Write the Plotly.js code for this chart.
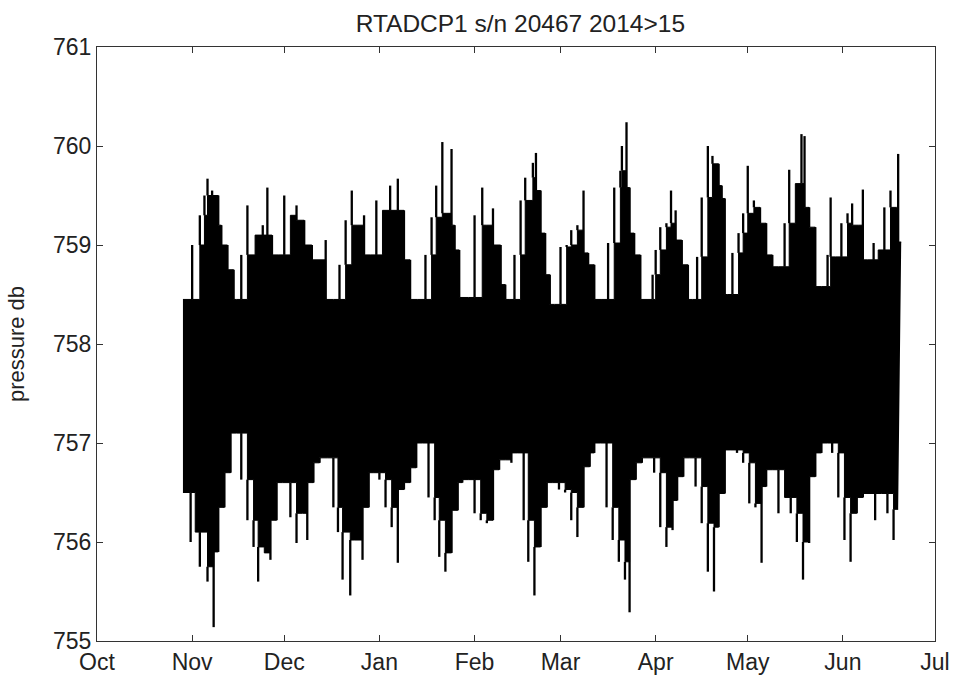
<!DOCTYPE html>
<html>
<head>
<meta charset="utf-8">
<script src="https://cdn.plot.ly/plotly-3.0.1.min.js"></script>
<style>html,body{margin:0;padding:0;background:#fff;}#chart{width:953px;height:677px;}</style>
</head>
<body>
<div id="chart"></div>
<script>
// Upper envelope of pressure record (db)
var hiDates = ["2014-10-29","2014-11-01","2014-11-03 12:00","2014-11-05","2014-11-06","2014-11-07 12:00","2014-11-09 12:00","2014-11-10 12:00","2014-11-12 12:00","2014-11-14 12:00","2014-11-15 12:00","2014-11-17","2014-11-19","2014-11-21 12:00","2014-11-24","2014-11-25 12:00","2014-11-27","2014-11-29","2014-12-01","2014-12-03","2014-12-05","2014-12-07 12:00","2014-12-10","2014-12-12","2014-12-14 12:00","2014-12-17","2014-12-19","2014-12-21","2014-12-23","2014-12-25","2014-12-27","2014-12-29","2014-12-31","2015-01-02","2015-01-04 12:00","2015-01-07","2015-01-09","2015-01-11","2015-01-13 12:00","2015-01-16","2015-01-18","2015-01-19 12:00","2015-01-21 12:00","2015-01-23","2015-01-24 12:00","2015-01-25 12:00","2015-01-27","2015-01-30","2015-02-01","2015-02-03 12:00","2015-02-05","2015-02-07","2015-02-09 12:00","2015-02-11","2015-02-12 12:00","2015-02-14","2015-02-16","2015-02-17 12:00","2015-02-20","2015-02-21","2015-02-22 12:00","2015-02-24","2015-02-25 12:00","2015-02-27","2015-03-01","2015-03-03","2015-03-04 12:00","2015-03-06 12:00","2015-03-08 12:00","2015-03-10","2015-03-12","2015-03-14 12:00","2015-03-16 12:00","2015-03-18 12:00","2015-03-20 12:00","2015-03-21","2015-03-22 12:00","2015-03-23 12:00","2015-03-25","2015-03-27","2015-03-29 12:00","2015-03-31","2015-04-01","2015-04-02 12:00","2015-04-04 12:00","2015-04-06","2015-04-07 12:00","2015-04-09 12:00","2015-04-11 12:00","2015-04-13","2015-04-14 12:00","2015-04-16","2015-04-18","2015-04-19 12:00","2015-04-21 12:00","2015-04-22 12:00","2015-04-23 12:00","2015-04-24 12:00","2015-04-26","2015-04-28","2015-04-29 12:00","2015-05-01","2015-05-03","2015-05-05","2015-05-07","2015-05-09","2015-05-11","2015-05-13","2015-05-14 12:00","2015-05-16 12:00","2015-05-18 12:00","2015-05-19 12:00","2015-05-21","2015-05-23","2015-05-25","2015-05-27","2015-05-28","2015-05-29 12:00","2015-05-31 12:00","2015-06-02 12:00","2015-06-04","2015-06-06","2015-06-07 12:00","2015-06-09","2015-06-11","2015-06-12 12:00","2015-06-14 12:00","2015-06-16 12:00","2015-06-18 12:00","2015-06-19","2015-06-20"];
var hiVals = [758.45,759.0,759.3,759.5,759.67,759.55,759.5,759.2,759.0,758.75,758.45,758.9,759.4,759.1,759.2,759.58,759.1,758.9,759.5,759.3,759.4,759.25,759.0,758.85,759.05,758.45,758.8,759.25,759.55,759.2,759.3,758.9,759.45,759.35,759.6,759.67,759.35,758.85,758.45,758.9,759.28,759.6,760.04,759.32,759.97,759.2,758.95,758.47,759.3,759.58,759.2,759.37,759.0,758.6,758.45,758.9,759.45,759.68,759.83,759.93,759.55,759.12,758.7,758.4,758.98,759.0,759.15,759.2,759.55,758.92,758.8,758.45,759.02,759.58,759.75,760.0,760.24,759.58,759.12,758.9,758.45,758.7,758.95,759.18,759.22,759.55,759.35,759.05,758.8,758.45,758.88,759.48,760.0,759.9,759.82,759.6,759.47,758.5,758.92,759.12,759.32,759.8,759.45,759.38,759.22,758.9,758.78,759.22,759.76,759.62,760.12,760.1,759.38,759.18,758.58,758.9,759.48,758.88,759.22,759.32,759.42,759.2,759.56,758.85,759.02,758.95,759.38,759.55,759.38,759.92,759.03];

// Lower envelope of pressure record (db)
var loDates = ["2014-10-29","2014-10-31 12:00","2014-11-02","2014-11-03 12:00","2014-11-06","2014-11-08","2014-11-09 12:00","2014-11-11 12:00","2014-11-13 12:00","2014-11-15 12:00","2014-11-17","2014-11-19","2014-11-21","2014-11-22 12:00","2014-11-24 12:00","2014-11-26 12:00","2014-11-28 12:00","2014-11-30 12:00","2014-12-03","2014-12-05","2014-12-07","2014-12-08 12:00","2014-12-10 12:00","2014-12-12 12:00","2014-12-15","2014-12-17","2014-12-18 12:00","2014-12-20","2014-12-22 12:00","2014-12-24","2014-12-26 12:00","2014-12-28 12:00","2014-12-30","2015-01-01","2015-01-03","2015-01-05","2015-01-07","2015-01-09","2015-01-11","2015-01-13","2015-01-15","2015-01-17","2015-01-19","2015-01-20 12:00","2015-01-22 12:00","2015-01-24 12:00","2015-01-26 12:00","2015-01-28","2015-01-30","2015-02-01","2015-02-03","2015-02-05","2015-02-07","2015-02-09","2015-02-11","2015-02-13","2015-02-15","2015-02-17","2015-02-18 12:00","2015-02-20 12:00","2015-02-22 12:00","2015-02-24 12:00","2015-02-26 12:00","2015-02-28 12:00","2015-03-02 12:00","2015-03-04 12:00","2015-03-06 12:00","2015-03-08 12:00","2015-03-10 12:00","2015-03-12","2015-03-14","2015-03-16","2015-03-18","2015-03-20","2015-03-22","2015-03-23 12:00","2015-03-25 12:00","2015-03-27 12:00","2015-03-29 12:00","2015-03-31 12:00","2015-04-02 12:00","2015-04-04 12:00","2015-04-06 12:00","2015-04-08","2015-04-10","2015-04-12","2015-04-14","2015-04-16","2015-04-18","2015-04-20","2015-04-21 12:00","2015-04-23 12:00","2015-04-25 12:00","2015-04-27 12:00","2015-04-29 12:00","2015-05-01 12:00","2015-05-03 12:00","2015-05-05 12:00","2015-05-07","2015-05-09","2015-05-11","2015-05-13","2015-05-15","2015-05-17","2015-05-19","2015-05-21","2015-05-23","2015-05-25","2015-05-27","2015-05-28 12:00","2015-05-30 12:00","2015-06-01 12:00","2015-06-03 12:00","2015-06-05 12:00","2015-06-07 12:00","2015-06-09 12:00","2015-06-11 12:00","2015-06-13 12:00","2015-06-15 12:00","2015-06-17 12:00","2015-06-19","2015-06-20"];
var loVals = [756.5,756.0,756.1,755.75,755.6,755.14,755.9,756.35,756.7,757.1,756.63,756.22,755.95,755.6,755.89,755.82,756.22,756.6,756.25,755.99,756.29,756.02,756.6,756.8,756.85,756.35,756.1,755.62,755.46,756.02,755.82,756.35,756.7,756.63,756.35,756.15,755.79,756.53,756.6,756.75,757.0,756.45,756.22,755.85,755.7,755.89,756.32,756.6,756.63,756.29,756.22,756.19,756.22,756.73,756.83,756.8,756.9,756.22,755.8,755.46,755.95,756.35,756.6,756.53,756.5,756.22,756.05,756.35,756.76,756.9,757.0,756.35,756.02,755.8,755.62,755.29,756.63,756.8,756.85,756.7,756.15,755.95,756.12,756.42,756.66,756.85,756.56,756.19,755.7,755.5,756.15,756.49,756.93,756.9,756.8,756.39,756.35,755.79,756.56,756.73,756.29,756.45,756.29,756.0,755.62,755.99,756.66,756.9,757.0,756.9,756.45,756.02,755.8,756.29,756.45,756.49,756.22,756.49,756.29,756.02,756.33];

var xTickVals = ["2014-10-01","2014-11-01","2014-12-01","2015-01-01","2015-02-01","2015-03-01","2015-04-01","2015-05-01","2015-06-01","2015-07-01"];
var xTickText = ["Oct","Nov","Dec","Jan","Feb","Mar","Apr","May","Jun","Jul"];
var yTickVals = [755,756,757,758,759,760,761];

// solid body = neighbourhood min of upper / max of lower envelope; thin spikes reach the envelope
function rolling(vals, f) {
  return vals.map(function (v, i) {
    var a = i > 0 ? vals[i - 1] : v, b = i < vals.length - 1 ? vals[i + 1] : v;
    return f(a, v, b);
  });
}
var bodyHi = rolling(hiVals, Math.min);
var bodyLo = rolling(loVals, Math.max);
var DAY = 86400000;

var font = "Liberation Sans, Arial, sans-serif";
var traces = [
  {x: loDates, y: bodyLo, type: "scatter", mode: "lines", line: {color: "#000", width: 1, shape: "hv"}, hoverinfo: "skip"},
  {x: hiDates, y: bodyHi, type: "scatter", mode: "lines", fill: "tonexty", fillcolor: "#000", line: {color: "#000", width: 1, shape: "hv"}, hoverinfo: "skip"},
  {x: hiDates, base: bodyHi, y: hiVals.map(function (v, i) { return v - bodyHi[i]; }), type: "bar", width: 0.75 * DAY, marker: {color: "#000", line: {width: 0}}, hoverinfo: "skip"},
  {x: loDates, base: loVals, y: loVals.map(function (v, i) { return bodyLo[i] - v; }), type: "bar", width: 0.75 * DAY, marker: {color: "#000", line: {width: 0}}, hoverinfo: "skip"}
];
var axisCommon = {showgrid: false, zeroline: false, showline: true, linecolor: "#333", linewidth: 1, mirror: "ticks", ticks: "inside", ticklen: 6, tickcolor: "#333", tickfont: {family: font, size: 23, color: "#222"}};
var layout = {
  width: 953, height: 677,
  margin: {l: 97, r: 18, t: 47, b: 36},
  paper_bgcolor: "#fff", plot_bgcolor: "#fff",
  showlegend: false, barmode: "overlay",
  title: {text: "RTADCP1 s/n 20467 2014>15", font: {family: font, size: 24.5, color: "#222"}, x: 0.546, xanchor: "center", y: 0.966, yanchor: "middle"},
  xaxis: Object.assign({}, axisCommon, {type: "date", range: ["2014-10-01", "2015-07-01"], tickmode: "array", tickvals: xTickVals, ticktext: xTickText}),
  yaxis: Object.assign({}, axisCommon, {range: [755, 761], tickmode: "array", tickvals: yTickVals, ticktext: yTickVals.map(String), title: {text: "pressure db", font: {family: font, size: 22, color: "#222"}, standoff: 22}})
};
Plotly.newPlot("chart", traces, layout, {displayModeBar: false, staticPlot: true});
</script>
</body>
</html>
